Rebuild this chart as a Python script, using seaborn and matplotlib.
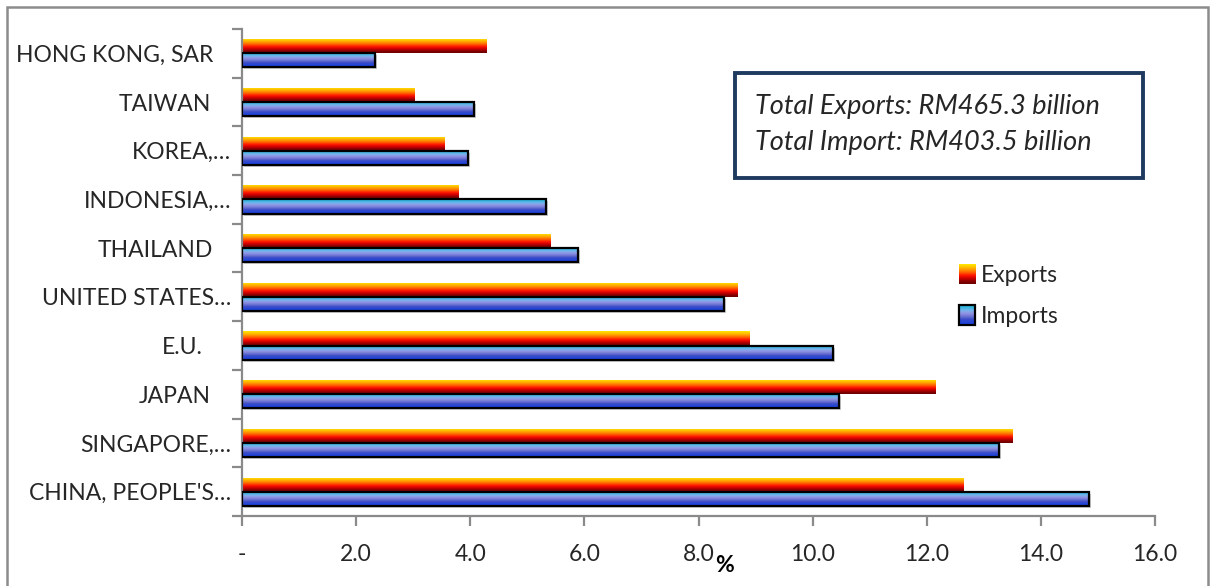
import numpy as np
import pandas as pd
import seaborn as sns
import matplotlib
matplotlib.use("Agg")
import matplotlib.pyplot as plt
from matplotlib.patches import Rectangle
from matplotlib.legend_handler import HandlerBase
from matplotlib.image import BboxImage
from matplotlib.transforms import Bbox, TransformedBbox, ScaledTranslation
from matplotlib.colors import to_rgb

# Trading partners (share of total trade, %)
partners = ["HONG KONG, SAR", "TAIWAN", "KOREA,…", "INDONESIA,…", "THAILAND",
            "UNITED STATES…", "E.U.", "JAPAN", "SINGAPORE,…", "CHINA, PEOPLE'S…"]
exports = [4.29, 3.03, 3.54, 3.79, 5.40, 8.68, 8.90, 12.15, 13.51, 12.64]
imports = [2.33, 4.07, 3.96, 5.33, 5.89, 8.45, 10.36, 10.46, 13.27, 14.84]
series = ["Exports", "Imports"]
x_ticks = [0, 2, 4, 6, 8, 10, 12, 14, 16]
x_ticklabels = ["-", "2.0", "4.0", "6.0", "8.0", "10.0", "12.0", "14.0", "16.0"]
summary_lines = ["Total Exports: RM465.3 billion", "Total Import: RM403.5 billion"]

df = pd.DataFrame({
    "partner": partners * 2,
    "share": exports + imports,
    "flow": [series[0]] * len(partners) + [series[1]] * len(partners),
})

sns.set_theme(style="white")
plt.rcParams["font.family"] = ["Lato", "DejaVu Sans"]

# vertical colour ramps used to fill the bars
fire_stops = ["#FFE800", "#FFC400", "#FF9400", "#FF5A00", "#FF1400", "#D00000", "#8A0000", "#6A0000"]
ocean_stops = ["#1FB2D6", "#3FB8E4", "#7EB0EC", "#9090E2", "#6A72D2", "#3C4CC8", "#2346D8", "#1E40E0"]


def ramp(stops, n=64):
    cols = np.array([to_rgb(c) for c in stops])
    pos = np.linspace(0, 1, len(stops))
    t = np.linspace(0, 1, n)
    rgb = np.stack([np.interp(t, pos, cols[:, k]) for k in range(3)], axis=1)
    return rgb[:, None, :]


fire = ramp(fire_stops)
ocean = ramp(ocean_stops)

fig = plt.figure(figsize=(12.1, 5.86), dpi=100)
ax = fig.add_axes([242 / 1210, 1 - 516 / 586, 913 / 1210, 487 / 586])

sns.barplot(data=df, y="partner", x="share", hue="flow", hue_order=series,
            order=partners, orient="h", width=0.58, ax=ax, legend=False,
            saturation=1, palette=["#FF6000", "#3050D0"])

n = len(partners)
bars = list(ax.patches)
for i, p in enumerate(bars):
    x0, y0 = p.get_x(), p.get_y()
    w, h = p.get_width(), p.get_height()
    grad = fire if i < n else ocean
    im = ax.imshow(grad, extent=(x0, x0 + w, y0 + h, y0), aspect="auto",
                   interpolation="bilinear", zorder=2)
    im.set_clip_path(p)
    p.set_facecolor("none")
    p.set_zorder(3)
    if i >= n:
        p.set_edgecolor("black")
        p.set_linewidth(1.6)
        # faint drop shadow
        ax.add_patch(Rectangle((x0, y0), w, h, transform=ax.transData + ScaledTranslation(2 / 100, -2 / 100, fig.dpi_scale_trans),
                               facecolor="#9a9a9a", edgecolor="none", alpha=0.5, zorder=1.5))
    else:
        p.set_edgecolor("none")

ax.set_xlim(0, 16)
ax.set_ylim(n - 0.5, -0.5)
ax.set_xlabel("")
ax.set_ylabel("")

# axes styling
for s in ["top", "right"]:
    ax.spines[s].set_visible(False)
for s in ["left", "bottom"]:
    ax.spines[s].set_color("#8a8a8a")
    ax.spines[s].set_linewidth(1.6)

ax.set_xticks(x_ticks)
ax.set_xticklabels(x_ticklabels, fontsize=16.5)
ax.tick_params(axis="x", direction="out", length=7, width=1.6, color="#8a8a8a", pad=13, bottom=True)

ax.set_yticks(range(n))
ax.set_yticklabels(partners, fontsize=16.5)
ax.set_yticks(np.arange(-0.5, n, 1.0), minor=True)
ax.tick_params(axis="y", which="major", length=0, pad=8)
ax.tick_params(axis="y", which="minor", direction="out", length=7, width=1.6, color="#8a8a8a", left=True)

# labels without ellipsis sit a little further from the axis
label_shift = {"HONG KONG, SAR": 18, "TAIWAN": 20, "THAILAND": 18, "E.U.": 28, "JAPAN": 20}
for lab in ax.get_yticklabels():
    dx = label_shift.get(lab.get_text(), 0)
    if dx:
        lab.set_transform(lab.get_transform() + ScaledTranslation(-dx / 100, 0, fig.dpi_scale_trans))

ax.text((724 - 242) / 913, -(566 - 516) / 487, "%", transform=ax.transAxes, ha="center", va="center",
        fontsize=16.5, fontweight="bold", color="black")

# summary box
fig.patches.append(Rectangle((735 / 1210, 1 - 178 / 586), 408 / 1210, 105 / 586, transform=fig.transFigure,
                             fill=False, edgecolor="#1F3A5F", linewidth=2.8))
fig.text(755 / 1210, 1 - 107 / 586, summary_lines[0], fontsize=19.5, style="italic", va="center", ha="left")
fig.text(755 / 1210, 1 - 142 / 586, summary_lines[1], fontsize=19.5, style="italic", va="center", ha="left")


class GradientHandler(HandlerBase):
    def __init__(self, grad, outline):
        super().__init__()
        self.grad = grad
        self.outline = outline

    def create_artists(self, legend, orig_handle, xdescent, ydescent, width, height, fontsize, trans):
        box = Bbox.from_bounds(-xdescent, -ydescent, width, height)
        im = BboxImage(TransformedBbox(box, trans), interpolation="bilinear")
        im.set_data(self.grad)
        frame = Rectangle((-xdescent, -ydescent), width, height, fill=False,
                          edgecolor="black" if self.outline else "none", linewidth=1.6, transform=trans)
        return [im, frame]


h_exp = Rectangle((0, 0), 1, 1)
h_imp = Rectangle((0, 0), 1, 1)
leg = ax.legend([h_exp, h_imp], series, loc="upper left", bbox_to_anchor=((950 - 242) / 913, (516 - 255) / 487),
                frameon=False, fontsize=16.5, handlelength=0.7, handleheight=0.95, handletextpad=0.25,
                labelspacing=0.85, borderaxespad=0.0,
                handler_map={h_exp: GradientHandler(fire, False), h_imp: GradientHandler(ocean, True)})

# chart area frame
fig.patches.append(Rectangle((7 / 1210, -0.1), 1201 / 1210, 1.1 - 7 / 586, transform=fig.transFigure,
                             fill=False, edgecolor="#8c8c8c", linewidth=1.8))

fig.savefig("out.png", dpi=100)
